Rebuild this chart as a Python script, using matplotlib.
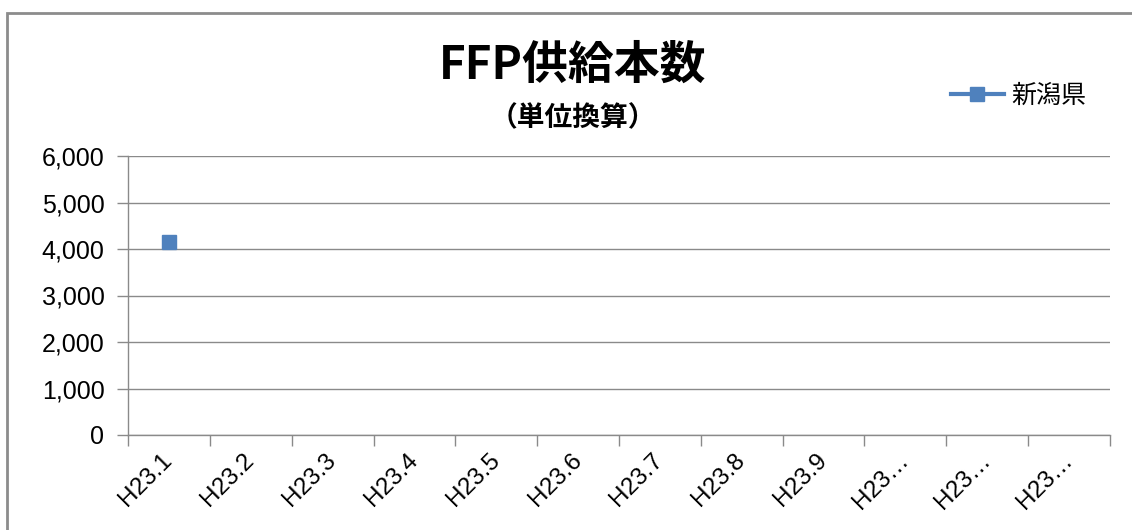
import matplotlib
matplotlib.use("Agg")
import matplotlib.pyplot as plt
from matplotlib.patches import Rectangle
from matplotlib.ticker import FuncFormatter

plt.rcParams['font.family'] = ['Liberation Sans', 'Noto Sans CJK JP', 'DejaVu Sans']

categories = ["H23.1", "H23.2", "H23.3", "H23.4", "H23.5", "H23.6",
              "H23.7", "H23.8", "H23.9", "H23…", "H23…", "H23…"]
niigata = [4140, None, None, None, None, None, None, None, None, None, None, None]
series_name = "新潟県"
title = "FFP供給本数"
subtitle = "（単位換算）"
yticks = [0, 1000, 2000, 3000, 4000, 5000, 6000]

W, H = 1132, 530
fig = plt.figure(figsize=(W / 100, H / 100), dpi=100)
fig.patch.set_facecolor("white")

# outer border
fig.add_artist(Rectangle((7 / W, -0.1), 1.2, 1 - 13 / H + 0.1, transform=fig.transFigure,
                         fill=False, edgecolor="#8c8c8c", linewidth=2))

ax = fig.add_axes([128 / W, 1 - 435 / H, (1110 - 128) / W, (435 - 156) / H])
gray = "#8a8a8a"
x = list(range(len(categories)))
yvals = [float('nan') if v is None else v for v in niigata]
ax.plot(x, yvals, color="#4F81BD", linewidth=3, marker="s", markersize=10,
        markeredgecolor="#4F81BD", label=series_name)

ax.set_xlim(-0.5, len(categories) - 0.5)
ax.set_ylim(0, 6000)
ax.set_yticks(yticks)
ax.yaxis.set_major_formatter(FuncFormatter(lambda v, p: f"{int(v):,}"))
ax.grid(axis="y", color=gray, linewidth=1)
ax.set_axisbelow(True)

ax.set_xticks(x)
ax.set_xticklabels(categories, rotation=45, ha="right", va="center",
                   rotation_mode="anchor", fontsize=17.5)
ax.set_xticks([i - 0.5 for i in range(len(categories) + 1)], minor=True)
ax.tick_params(axis="x", which="major", length=0, pad=16)
ax.tick_params(axis="x", which="minor", length=8, color=gray, width=1)
ax.tick_params(axis="y", length=8, color=gray, width=1, labelsize=18, pad=9)

for s in ["top", "right"]:
    ax.spines[s].set_visible(False)
for s in ["left", "bottom"]:
    ax.spines[s].set_color(gray)
    ax.spines[s].set_linewidth(1)

fig.text(573 / W, 1 - 66 / H, title, ha="center", va="center", fontsize=33,
         fontweight="bold", family=["Noto Sans CJK JP"])
fig.text(573 / W, 1 - 118 / H, subtitle, ha="center", va="center", fontsize=20,
         fontweight="bold", family=["Noto Sans CJK JP"])

leg = ax.legend(loc="center left", bbox_to_anchor=(951 / W, 1 - 96 / H),
                bbox_transform=fig.transFigure, frameon=False, handlelength=2.1,
                handletextpad=0.3, borderpad=0, borderaxespad=0,
                prop={"family": ["Noto Sans CJK JP"], "size": 18})

fig.savefig("out.png", dpi=100)
